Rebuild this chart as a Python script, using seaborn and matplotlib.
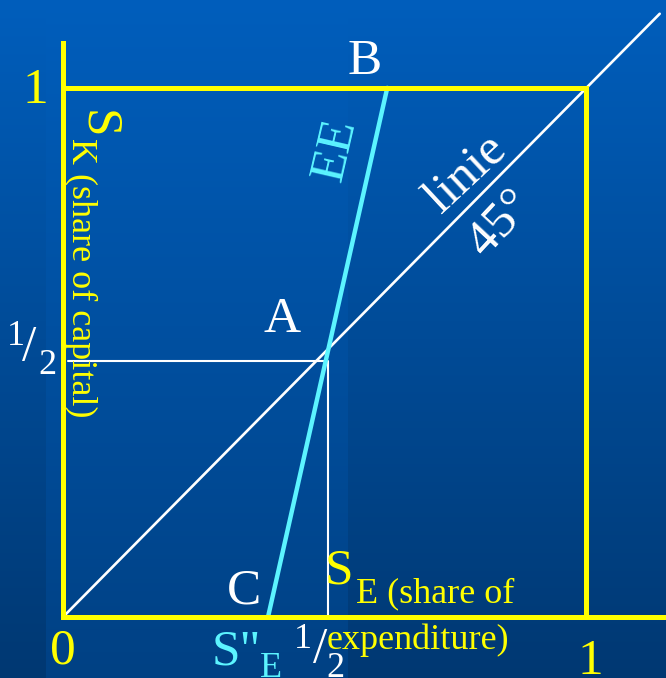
import numpy as np
import matplotlib
matplotlib.use("Agg")
import matplotlib.pyplot as plt
import seaborn as sns

YELLOW = "#FFFF00"
CYAN = "#5CF4FF"
WHITE = "#FFFFFF"
BG_TOP = np.array([0, 94, 188]) / 255
BG_BOT = np.array([0, 56, 114]) / 255

# diagram geometry, unit box = shares 0..1
AXIS_X = [0.0, 0.0, 1.153]
AXIS_Y = [1.085, 0.0, 0.0]
BOX_X = [0.0, 1.0, 1.0]
BOX_Y = [1.0, 1.0, 0.0]
DIAG_X = [0.0, 1.141]
DIAG_Y = [0.0, 1.140]
EE_X = [0.392, 0.620]
EE_Y = [0.0, 1.0]
HALF_X = [0.010, 0.506, 0.506]
HALF_Y = [0.484, 0.484, 0.0]

XLIM = (-0.1205, 1.153)
YLIM = (-0.1153, 1.166)

sns.set_theme(style="white")
plt.rcParams["font.family"] = ["Liberation Serif", "DejaVu Serif"]

BIG = 37
SUB = 26

fig = plt.figure(figsize=(6.66, 6.78), dpi=100)
ax = fig.add_axes([0, 0, 1, 1])
ax.set_xlim(*XLIM)
ax.set_ylim(*YLIM)
ax.axis("off")

# blue gradient background with the lighter strip on the left half
h, w = 678, 666
t = np.linspace(0, 1, h)[:, None]
img = BG_TOP[None, None, :] + (BG_BOT - BG_TOP)[None, None, :] * t[:, :, None]
img = np.repeat(img, w, axis=1)
xs = np.linspace(XLIM[0], XLIM[1], w)
strip = (xs > -0.034) & (xs < 0.545)
img[:, strip, 1] += 0.035 * t
img[:, strip, 2] += 0.07 * t
ax.imshow(np.clip(img, 0, 1), extent=[XLIM[0], XLIM[1], YLIM[0], YLIM[1]],
          aspect="auto", origin="upper", zorder=0)

# lines
sns.lineplot(x=DIAG_X, y=DIAG_Y, sort=False, estimator=None, color=WHITE,
             linewidth=1.9, ax=ax)
sns.lineplot(x=HALF_X, y=HALF_Y, sort=False, estimator=None, color=WHITE,
             linewidth=1.5, ax=ax)
sns.lineplot(x=EE_X, y=EE_Y, sort=False, estimator=None, color=CYAN,
             linewidth=3.2, ax=ax)
for lx, ly in [(AXIS_X, AXIS_Y), (BOX_X, BOX_Y)]:
    sns.lineplot(x=lx, y=ly, sort=False, estimator=None, color=YELLOW,
                 linewidth=3.6, ax=ax, solid_capstyle="projecting",
                 solid_joinstyle="miter")

# labels
txt = dict(va="baseline", zorder=5)
ax.text(-0.052, 0.972, "1", color=YELLOW, fontsize=BIG, ha="center", **txt)
ax.text(0.0, -0.087, "0", color=YELLOW, fontsize=BIG, ha="center", **txt)
ax.text(1.008, -0.108, "1", color=YELLOW, fontsize=BIG, ha="center", **txt)
ax.text(0.577, 1.027, "B", color=WHITE, fontsize=BIG, ha="center", **txt)
ax.text(0.419, 0.539, "A", color=WHITE, fontsize=BIG, ha="center", **txt)
ax.text(0.346, 0.025, "C", color=WHITE, fontsize=BIG, ha="center", **txt)

# 1/2 on the vertical axis
ax.text(-0.090, 0.514, "1", color=WHITE, fontsize=SUB, ha="center", **txt)
ax.text(-0.065, 0.486, "/", color=WHITE, fontsize=BIG, ha="center", **txt)
ax.text(-0.029, 0.459, "2", color=WHITE, fontsize=SUB, ha="center", **txt)
# 1/2 on the horizontal axis
ax.text(0.459, -0.059, "1", color=WHITE, fontsize=SUB, ha="center", **txt)
ax.text(0.491, -0.086, "/", color=WHITE, fontsize=BIG, ha="center", **txt)
ax.text(0.520, -0.113, "2", color=WHITE, fontsize=SUB, ha="center", **txt)

# S_E (share of expenditure)
ax.text(0.528, 0.063, "S", color=YELLOW, fontsize=BIG, ha="center", **txt)
ax.text(0.560, 0.028, "E (share of", color=YELLOW, fontsize=SUB, ha="left", **txt)
ax.text(0.505, -0.061, "expenditure)", color=YELLOW, fontsize=SUB, ha="left", **txt)

# S"_E
ax.text(0.285, -0.089, 'S"', color=CYAN, fontsize=BIG, ha="left", **txt)
ax.text(0.377, -0.113, "E", color=CYAN, fontsize=SUB, ha="left", **txt)

# S_K (share of capital), rotated
ax.text(0.042, 0.958, "S", color=YELLOW, fontsize=BIG, rotation=-90,
        rotation_mode="anchor", ha="left", va="baseline", zorder=5)
ax.text(0.017, 0.906, "K (share of capital)", color=YELLOW, fontsize=SUB,
        rotation=-90, rotation_mode="anchor", ha="left", va="baseline", zorder=5)

# curve labels
ax.text(0.522, 0.883, "EE", color=CYAN, fontsize=BIG, rotation=77,
        rotation_mode="anchor", ha="center", va="center", zorder=5)
ax.text(0.772, 0.836, "linie", color=WHITE, fontsize=BIG, rotation=43,
        rotation_mode="anchor", ha="center", va="center", zorder=5)
ax.text(0.836, 0.745, "45°", color=WHITE, fontsize=BIG, rotation=47,
        rotation_mode="anchor", ha="center", va="center", zorder=5)

fig.savefig("out.png", dpi=100)
plt.close(fig)
